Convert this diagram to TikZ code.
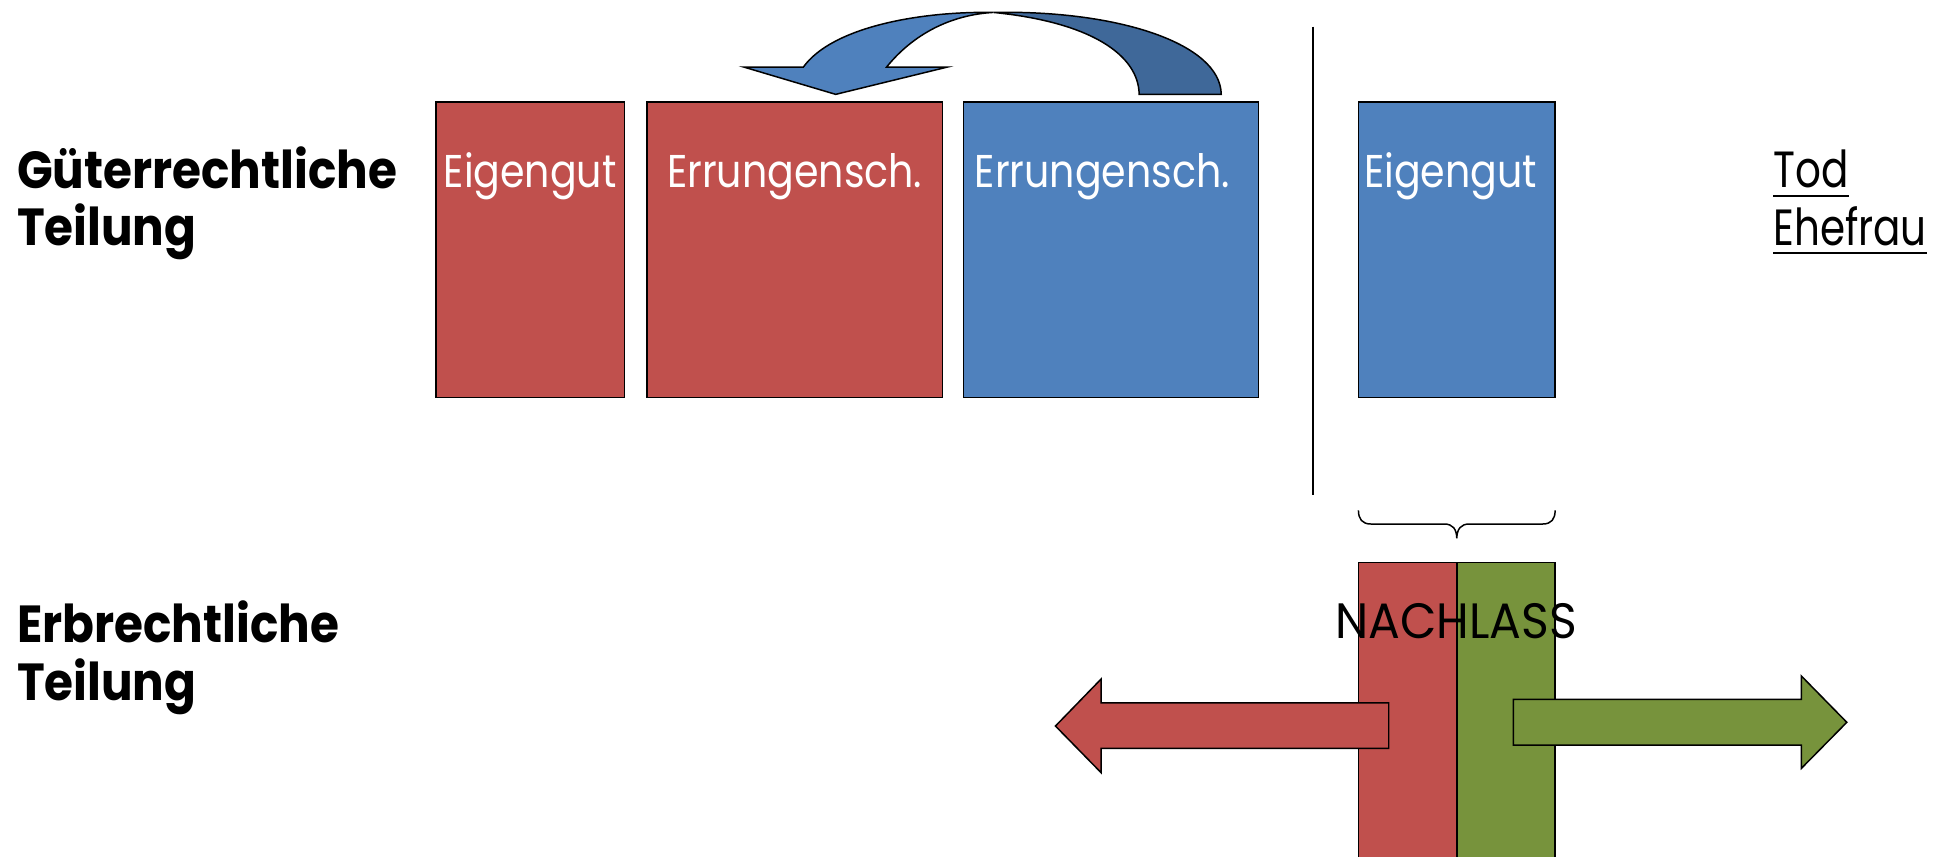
\documentclass[tikz,border=0pt]{standalone}
\usepackage{fontspec}
\newfontfamily\ftext{Poppins}[FakeStretch=0.86]
\newfontfamily\fnarrow{Poppins}[FakeStretch=0.795]
\newfontfamily\fwide{Poppins}[FakeStretch=0.95]
\newfontfamily\fhead{Poppins}[FakeStretch=0.9]
\definecolor{offred}{HTML}{C0504D}
\definecolor{offblue}{HTML}{4F81BD}
\definecolor{offdark}{HTML}{3F6899}
\definecolor{offgreen}{HTML}{77933C}
\tikzset{
  bar/.style={draw=black, line width=1.2pt, inner sep=0pt, minimum height=238pt},
  redbar/.style={bar, fill=offred},
  bluebar/.style={bar, fill=offblue},
  boxtext/.style={text=white, inner sep=0pt, anchor=base, font=\ftext\fontsize{37}{44}\selectfont},
  heading/.style={inner sep=0pt, anchor=base west, align=left, font=\fhead\bfseries\fontsize{42}{46.5}\selectfont},
  plain/.style={inner sep=0pt, anchor=base west, font=\fnarrow\fontsize{41}{47}\selectfont},
  outlined/.style={draw=black, line width=1.2pt, line join=miter},
}
\begin{document}
\begin{tikzpicture}[x=1pt,y=-1pt]
\path[use as bounding box] (0,0) rectangle (1568,690);

% headings (anchor base = baseline of last line)
\node[heading] (h1) at (13.5,198) {Güterrechtliche\\Teilung};
\node[heading] (h2) at (13.5,564) {Erbrechtliche\\Teilung};

% boxes
\node[redbar, minimum width=152pt] (eg1) at (427,201) {};
\node[redbar, minimum width=238pt] (er1) at (640,201) {};
\node[bluebar, minimum width=237.5pt] (er2) at (894.75,201) {};
\node[bluebar, minimum width=158.4pt] (eg2) at (1173.2,201) {};

\node[boxtext] (t1) at ([yshift=-70pt]eg1.north) {Eigengut};
\node[boxtext] (t2) at ([yshift=-70pt]er1.north) {Errungensch.};
\node[boxtext] (t3) at ([xshift=-7pt,yshift=-70pt]er2.north) {Errungensch.};
\node[boxtext] (t4) at ([xshift=-5pt,yshift=-70pt]eg2.north) {Eigengut};

% divider
\coordinate (vtop) at (1057.4,21.5);
\coordinate (vbot) at (1057.4,398.7);
\draw[line width=1.4pt] (vtop) -- (vbot);

% Tod Ehefrau
\node[plain] (tod) at (1428,150.6) {Tod};
\node[plain] (ehe) at (1428,197.4) {Ehefrau};
\draw[line width=1.8pt] ([yshift=-7.5pt]tod.base west) -- ([yshift=-7.5pt]tod.base east);
\draw[line width=1.8pt] ([yshift=-6.5pt]ehe.base west) -- ([yshift=-6.5pt]ehe.base east);

% curved arrow (back face)
\path[outlined, fill=offdark] (800,10) .. controls (900,8) and (983,35) .. (983.5,76)
  -- (917.4,76) .. controls (917,45) and (880,18) .. (800,10) -- cycle;
% curved arrow (front face with head)
\path[outlined, fill=offblue] (599,54) -- (673,76) -- (763,54) -- (714,54)
  .. controls (735,28) and (765,12) .. (800,10)
  .. controls (740,9) and (670,22) .. (647,54) -- cycle;

% brace
\draw[line width=1.2pt] (1094,411) .. controls (1094,418) and (1097,422) .. (1104,422)
  -- (1163,422) .. controls (1170,422) and (1173,426) .. (1173.2,433.5)
  .. controls (1173.4,426) and (1176.4,422) .. (1183.4,422)
  -- (1242.4,422) .. controls (1249.4,422) and (1252.4,418) .. (1252.4,411);

% Nachlass columns
\path[outlined, fill=offred] (1094,453) rectangle (1173.2,705);
\path[outlined, fill=offgreen] (1173.2,453) rectangle (1252.4,705);
\node[inner sep=0pt, anchor=base, font=\fwide\fontsize{40}{46}\selectfont] (nl) at (1172.5,514) {NACHLASS};

% arrows
\path[outlined, fill=offred] (1118.4,566) -- (886.8,566) -- (886.8,546.8) -- (850,584.7)
  -- (886.8,622.3) -- (886.8,602.7) -- (1118.4,602.7) -- cycle;
\path[outlined, fill=offgreen] (1218.7,563.2) -- (1450.7,563.2) -- (1450.7,544.4) -- (1487.3,581.7)
  -- (1450.7,618.8) -- (1450.7,600) -- (1218.7,600) -- cycle;
\end{tikzpicture}
\end{document}
